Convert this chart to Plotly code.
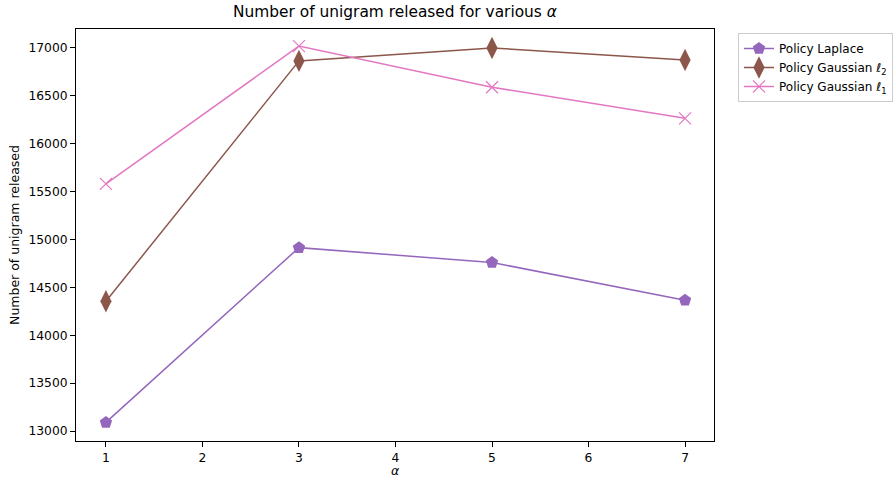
import plotly.graph_objects as go

alpha = [1, 3, 5, 7]
laplace = [13090, 14915, 14760, 14365]
gauss_l2 = [14355, 16865, 17000, 16875]
gauss_l1 = [15580, 17020, 16590, 16265]

x_ticks = [1, 2, 3, 4, 5, 6, 7]
y_ticks = [13000, 13500, 14000, 14500, 15000, 15500, 16000, 16500, 17000]
y_ticktext = [str(v) for v in y_ticks]

W, H = 896, 477
L, R, T, B = 76, 714, 29, 441

def px(xp):
    return (xp - L) / (R - L)

def py(yp):
    return (B - yp) / (B - T)

fig = go.Figure()
fig.add_trace(go.Scatter(x=alpha, y=laplace, mode="lines+markers", name="Policy Laplace",
                         line=dict(color="#9467bd", width=1.5),
                         marker=dict(symbol="pentagon", size=13, color="#9467bd")))
fig.add_trace(go.Scatter(x=alpha, y=gauss_l2, mode="lines+markers", name="Policy Gaussian <i>ℓ</i><sub>2</sub>",
                         line=dict(color="#8c564b", width=1.5),
                         marker=dict(symbol="diamond-tall", size=16, color="#8c564b")))
fig.add_trace(go.Scatter(x=alpha, y=gauss_l1, mode="lines+markers", name="Policy Gaussian <i>ℓ</i><sub>1</sub>",
                         line=dict(color="#e377c2", width=1.5),
                         marker=dict(symbol="x-thin", size=12, color="#e377c2",
                                     line=dict(color="#e377c2", width=1.2))))

axis_common = dict(showline=True, linecolor="black", linewidth=1, mirror=True,
                   ticks="outside", ticklen=5, tickcolor="black", showgrid=False,
                   zeroline=False, tickfont=dict(size=12.3, color="black"))

# legend shadow (bottom edge)
fig.add_shape(type="rect", xref="paper", yref="paper",
              x0=px(742), x1=px(890), y0=py(100), y1=py(37),
              fillcolor="#888888", line=dict(width=0), layer="below")

# x-axis title
fig.add_annotation(text="<i>α</i>", xref="paper", yref="paper", x=0.5, y=py(470),
                   xanchor="center", yanchor="middle", showarrow=False,
                   font=dict(size=12.5, color="black"))

fig.update_layout(
    width=W, height=H,
    margin=dict(l=L, r=W - R, t=T, b=H - B, autoexpand=False),
    paper_bgcolor="white", plot_bgcolor="white",
    font=dict(family="DejaVu Sans", color="black"),
    title=dict(text="Number of unigram released for various <i>α</i>", x=(L + R) / 2 / W,
               xanchor="center", y=1 - 12 / H, yanchor="middle", font=dict(size=15.4)),
    xaxis=dict(range=[0.69, 7.3], tickvals=x_ticks, **axis_common),
    yaxis=dict(range=[12896, 17198], tickvals=y_ticks, ticktext=y_ticktext,
               title=dict(text="Number of unigram released", font=dict(size=12.5), standoff=6), **axis_common),
    legend=dict(x=px(738), y=py(33), xanchor="left", yanchor="top",
                bordercolor="#cccccc", borderwidth=1, bgcolor="white",
                font=dict(size=12), tracegroupgap=0, itemwidth=30),
    showlegend=True,
)

fig.write_html("out.html", config={"displayModeBar": False},
               post_script="document.body.style.margin='0';document.body.style.overflow='hidden';")
